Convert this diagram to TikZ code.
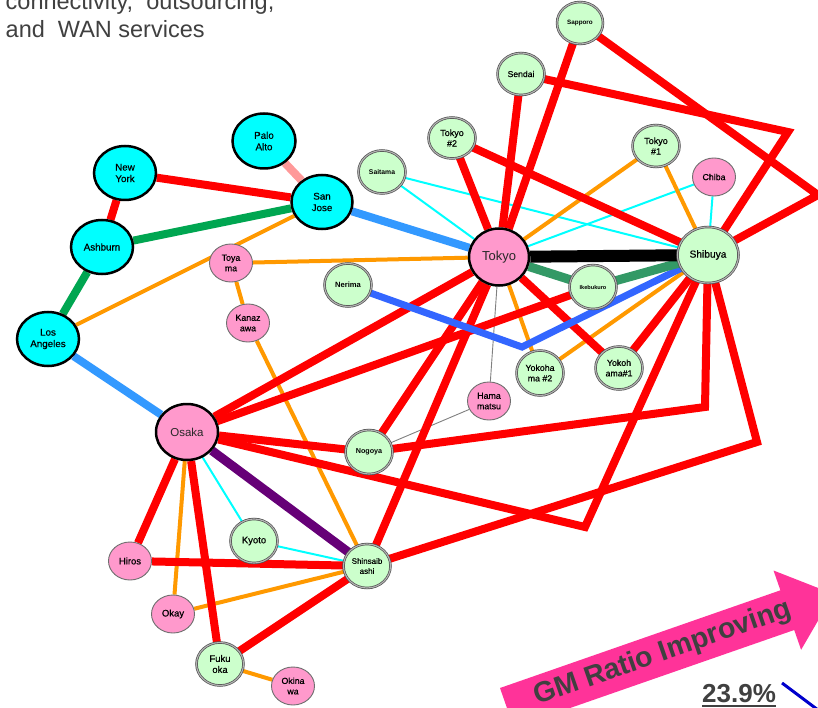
\documentclass[tikz,border=0pt]{standalone}
\usepackage{fontspec}
\setmainfont{Liberation Sans}
\newfontfamily\lblfont{Liberation Sans}[FakeBold=0.45]
\usetikzlibrary{shapes.geometric}
\definecolor{netred}{HTML}{FF0000}
\definecolor{netorange}{HTML}{FF9900}
\definecolor{netcyan}{HTML}{00FFFF}
\definecolor{netblue}{HTML}{3399FF}
\definecolor{netblueb}{HTML}{3366FF}
\definecolor{netgreen}{HTML}{00A651}
\definecolor{ikegreen}{HTML}{339966}
\definecolor{netpurple}{HTML}{660077}
\definecolor{netsalmon}{HTML}{FF9999}
\definecolor{nodepink}{HTML}{FF99CC}
\definecolor{nodegreen}{HTML}{CCFFCC}
\definecolor{arrowpink}{HTML}{FF3399}
\definecolor{textgray}{HTML}{404040}
\pgfdeclarelayer{paper}
\pgfdeclarelayer{edges}
\pgfsetlayers{paper,edges,main}
\tikzset{
  basenode/.style={ellipse, inner sep=0pt, align=center, text=black},
  cyannode/.style={basenode, fill=netcyan, draw=black, line width=2.5pt,
    minimum width=62pt, minimum height=54pt, font={\lblfont\fontsize{9.8}{11.5}\selectfont}},
  bignode/.style={basenode, fill=nodepink, draw=black, line width=2.5pt,
    minimum width=60pt, minimum height=57pt, text={rgb,255:red,40;green,40;blue,40}},
  greennode/.style={basenode, fill=nodegreen, draw={rgb,255:red,80;green,80;blue,80},
    double={rgb,255:red,180;green,180;blue,180}, double distance=1.1pt, line width=0.7pt,
    minimum width=47pt, minimum height=43pt, font={\lblfont\fontsize{9}{10.5}\selectfont}},
  pinksmall/.style={basenode, fill=nodepink, draw={rgb,255:red,110;green,110;blue,110},
    line width=0.9pt, minimum width=43pt, minimum height=38pt,
    font={\lblfont\fontsize{8.8}{10.5}\selectfont}},
  redl/.style={draw=netred, line width=8pt},
  orl/.style={draw=netorange, line width=4pt},
  cyl/.style={draw=netcyan, line width=2pt},
  gryl/.style={draw=gray, line width=0.9pt},
}
\begin{document}
\begin{tikzpicture}[x=1pt,y=-1pt]
\useasboundingbox (0,0) rectangle (818,708);
\begin{pgfonlayer}{paper}
\fill[white] (0,0) rectangle (818,708);
\end{pgfonlayer}

% text top-left
\node[anchor=base west, inner sep=0pt, text=textgray, font=\fontsize{23.5}{27}\selectfont] (t1) at (5.5,9.5) {connectivity,\ \ outsourcing,};
\node[anchor=base west, inner sep=0pt, text=textgray, font=\fontsize{23.5}{27}\selectfont] (t2) at (5.5,37.3) {and\ \ WAN services};

% nodes
\node[cyannode, minimum width=63pt, minimum height=55pt] (paloalto) at (264,141) {Palo\\Alto};
\node[cyannode] (newyork) at (125,173) {New\\York};
\node[cyannode, minimum width=61pt] (sanjose) at (322,202) {San\\Jose};
\node[cyannode] (ashburn) at (102,247) {Ashburn};
\node[cyannode] (losangeles) at (48,339) {Los\\Angeles};
\node[pinksmall] (toyama) at (231,263) {Toya\\ma};
\node[pinksmall] (kanazawa) at (248,323) {Kanaz\\awa};
\node[greennode, font=\bfseries\fontsize{7.6}{9}\selectfont] (nerima) at (348,285) {Nerima};
\node[greennode, font=\bfseries\fontsize{6.8}{8}\selectfont] (saitama) at (382,172) {Saitama};
\node[greennode, minimum height=41pt] (tokyo2) at (452,138) {Tokyo\\\#2};
\node[greennode, minimum height=42pt, font={\lblfont\fontsize{8.6}{10}\selectfont}] (sendai) at (521,74) {Sendai};
\node[greennode, minimum width=46pt, minimum height=42pt, font=\bfseries\fontsize{6.3}{8}\selectfont] (sapporo) at (580,23) {Sapporo};
\node[greennode, minimum height=42pt] (tokyo1) at (656,146) {Tokyo\\\#1};
\node[pinksmall] (chiba) at (714,177) {Chiba};
\node[bignode, font=\fontsize{13}{15}\selectfont] (tokyo) at (499,257) {Tokyo};
\node[greennode, minimum width=61pt, minimum height=56pt, font={\lblfont\fontsize{10.2}{12}\selectfont}] (shibuya) at (708,255) {Shibuya};
\node[greennode, minimum height=44pt, font=\bfseries\fontsize{5.6}{7}\selectfont] (ikebukuro) at (593,287) {Ikebukuro};
\node[greennode, minimum height=45pt, font={\lblfont\fontsize{8.8}{10.5}\selectfont}] (yokohama2) at (540,373) {Yokoha\\ma \#2};
\node[greennode, font={\lblfont\fontsize{8.8}{10.5}\selectfont}] (yokohama1) at (619,368) {Yokoh\\ama\#1};
\node[pinksmall] (hamamatsu) at (489,401) {Hama\\matsu};
\node[greennode, minimum height=44pt, font=\bfseries\fontsize{7.2}{9}\selectfont] (nogoya) at (369,452) {Nogoya};
\node[greennode, minimum height=44pt, font={\lblfont\fontsize{8}{10}\selectfont}] (shinsaibashi) at (367,566) {Shinsaib\\ashi};
\node[bignode, minimum width=62pt, minimum height=56pt, font=\fontsize{11.5}{13}\selectfont] (osaka) at (187,432) {Osaka};
\node[greennode, minimum height=44pt, font={\lblfont\fontsize{9.5}{11}\selectfont}] (kyoto) at (254,541) {Kyoto};
\node[pinksmall, font={\lblfont\fontsize{9.5}{11}\selectfont}] (hiros) at (130,561) {Hiros};
\node[pinksmall, font={\lblfont\fontsize{9.5}{11}\selectfont}] (okay) at (173,614) {Okay};
\node[greennode, font={\lblfont\fontsize{9.5}{11}\selectfont}] (fukuoka) at (220,664) {Fuku\\oka};
\node[pinksmall] (okinawa) at (293,686) {Okina\\wa};

% bend points
\coordinate (bsendai) at (788,132);
\coordinate (bsapporo) at (818,195);
\coordinate (bnogoya) at (705,407);
\coordinate (bosaka) at (585,527);
\coordinate (bshin) at (757,442);
\coordinate (bnerima) at (522,347);

\begin{pgfonlayer}{edges}
% US
\draw[redl] (newyork) -- (sanjose);
\draw[redl] (newyork) -- (ashburn);
\draw[draw=netsalmon, line width=8pt] (paloalto) -- (sanjose);
\draw[draw=netgreen, line width=8pt] (ashburn) -- (sanjose);
\draw[draw=netgreen, line width=8pt] (ashburn) -- (losangeles);
\draw[orl] (losangeles) -- (sanjose);
\draw[draw=netblue, line width=8pt] (sanjose) -- (tokyo);
\draw[draw=netblue, line width=8pt] (losangeles) -- (osaka);
% thin cyan
\draw[cyl] (saitama) -- (tokyo);
\draw[cyl] (saitama) -- (shibuya);
\draw[cyl] (tokyo) -- (chiba);
\draw[cyl] (chiba) -- (shibuya);
\draw[cyl] (osaka) -- (kyoto);
\draw[cyl] (kyoto) -- (shinsaibashi);
% gray
\draw[gryl] (tokyo) -- (hamamatsu);
\draw[gryl] (hamamatsu) -- (nogoya);
% orange
\draw[orl] (toyama) -- (tokyo);
\draw[orl] (toyama) -- (kanazawa);
\draw[orl] (kanazawa) -- (shinsaibashi);
\draw[orl] (tokyo) -- (tokyo1);
\draw[orl] (tokyo1) -- (shibuya);
\draw[orl] (tokyo) -- (yokohama2);
\draw[orl] (yokohama2) -- (shibuya);
\draw[orl] (osaka) -- (okay);
\draw[orl] (okay) -- (shinsaibashi);
\draw[orl] (fukuoka) -- (okinawa);
% red
\draw[redl] (tokyo) -- (sendai);
\draw[redl] (tokyo) -- (sapporo);
\draw[redl] (tokyo) -- (tokyo2);
\draw[redl] (tokyo2) -- (shibuya);
\draw[redl] (sendai) -- (bsendai) -- (shibuya);
\draw[redl] (sapporo) -- (bsapporo) -- (shibuya);
\draw[redl] (tokyo) -- (yokohama1);
\draw[redl] (yokohama1) -- (shibuya);
\draw[redl] (tokyo) -- (osaka);
\draw[redl] (tokyo) -- (nogoya);
\draw[redl] (tokyo) -- (shinsaibashi);
\draw[redl] (ikebukuro) -- (osaka);
\draw[redl] (osaka) -- (nogoya);
\draw[redl] (nogoya) -- (bnogoya) -- (shibuya);
\draw[redl] (osaka) -- (bosaka) -- (shibuya);
\draw[redl] (shinsaibashi) -- (bshin) -- (shibuya);
\draw[redl] (osaka) -- (hiros);
\draw[redl] (osaka) -- (fukuoka);
\draw[redl] (hiros) -- (shinsaibashi);
\draw[redl] (fukuoka) -- (shinsaibashi);
% blue Nerima
\draw[draw=netblueb, line width=7pt] (nerima) -- (bnerima) -- (shibuya);
% thick
\draw[draw=ikegreen, line width=9pt] (tokyo) -- (ikebukuro);
\draw[draw=ikegreen, line width=9pt] (ikebukuro) -- (shibuya);
\draw[draw=netpurple, line width=9pt] (osaka) -- (shinsaibashi);
\draw[draw=black, line width=12pt] (tokyo) -- (shibuya);
\end{pgfonlayer}

% GM arrow
\fill[arrowpink] (500,688) -- (780.4,590.3) -- (773.5,570.5) -- (833.5,594.0)
  -- (801.1,649.8) -- (794.2,630.0) -- (513.8,727.6) -- cycle;
\node[rotate=19.2, inner sep=0pt, text=textgray, font=\bfseries\fontsize{28.5}{30}\selectfont] (gm) at (662.7,653.5) {GM Ratio Improving};
\node[anchor=base west, inner sep=0pt, text=textgray, font=\bfseries\fontsize{26}{28}\selectfont] (pct) at (702,702) {23.9\%};
\draw[textgray, line width=1.8pt] (pct.base west) ++(0,4) coordinate (ul1) -- (pct.base east |- ul1);
\coordinate (bl1) at (782,683);
\coordinate (bl2) at (830,719);
\draw[draw={rgb,255:red,0;green,0;blue,204}, line width=3pt] (bl1) -- (bl2);
\end{tikzpicture}
\end{document}
